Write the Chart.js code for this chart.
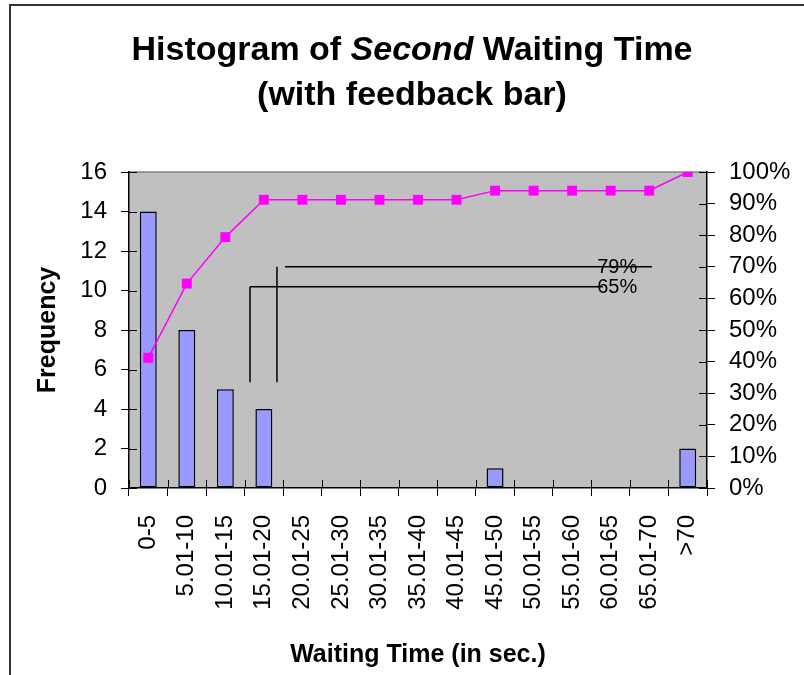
<!DOCTYPE html>
<html>
<head>
<meta charset="utf-8">
<title>Histogram of Second Waiting Time</title>
<script src="https://cdn.jsdelivr.net/npm/chart.js@4.4.1/dist/chart.umd.min.js"></script>
<style>
  body { margin: 0; background: #fff; font-family: 'Liberation Sans', Arial, sans-serif; }
  #moldura { position: absolute; left: 9px; top: 4px; width: 800px; height: 680px; border-left: 2px solid #333; border-top: 2px solid #333; }
  #grafico { position: absolute; left: 0; top: 0; }
  #titulo { position: absolute; left: 0; top: 26px; width: 824px; text-align: center; font-weight: bold; font-size: 34px; line-height: 45px; color: #000; }
</style>
</head>
<body>
<div id="moldura"></div>
<canvas id="grafico" width="804" height="675"></canvas>
<div id="titulo">Histogram of <i>Second</i> Waiting Time<br>(with feedback bar)</div>
<script>
// --- Dados ---
const categorias = ['0-5', '5.01-10', '10.01-15', '15.01-20', '20.01-25', '25.01-30', '30.01-35', '35.01-40',
  '40.01-45', '45.01-50', '50.01-55', '55.01-60', '60.01-65', '65.01-70', '>70'];
const frequencias = [14, 8, 5, 4, 0, 0, 0, 0, 0, 1, 0, 0, 0, 0, 2];
const acumulado = [41.2, 64.7, 79.4, 91.2, 91.2, 91.2, 91.2, 91.2, 91.2, 94.1, 94.1, 94.1, 94.1, 94.1, 100];
const ticksFrequencia = [0, 2, 4, 6, 8, 10, 12, 14, 16];
const ticksPercentual = [0, 10, 20, 30, 40, 50, 60, 70, 80, 90, 100];

// barras de feedback (x em índice de categoria, y em % do eixo direito)
const feedbackTextos = ['79%', '65%'];
const feedbackNivel = [70, 63.7];
const feedbackInicio = [3.55, 2.64];
const feedbackFim = [13.07, 11.80];
const feedbackVertX = [3.34, 2.64];
const feedbackBase = [33.5, 33.5];
const feedbackTextoX = [11.65, 11.65];

const fonte = "'Liberation Sans', Arial, sans-serif";

// --- Plugins ---
const fundoPlugin = {
  id: 'fundo',
  beforeDraw(chart) {
    const { ctx, chartArea: a } = chart;
    ctx.save();
    ctx.fillStyle = '#C0C0C0';
    ctx.fillRect(a.left, a.top, a.right - a.left, a.bottom - a.top);
    ctx.strokeStyle = '#808080';
    ctx.lineWidth = 1.5;
    ctx.beginPath();
    ctx.moveTo(a.left, a.top);
    ctx.lineTo(a.right, a.top);
    ctx.stroke();
    ctx.restore();
  }
};

const marcasPlugin = {
  id: 'marcas',
  beforeDatasetsDraw(chart) {
    const { ctx, chartArea: a, scales } = chart;
    ctx.save();
    ctx.strokeStyle = '#000';
    ctx.lineWidth = 1;
    ctx.beginPath();
    scales.y.ticks.forEach(t => {
      const y = Math.round(scales.y.getPixelForValue(t.value)) + 0.5;
      ctx.moveTo(a.left, y);
      ctx.lineTo(a.left + 8, y);
    });
    scales.y1.ticks.forEach(t => {
      const y = Math.round(scales.y1.getPixelForValue(t.value)) + 0.5;
      ctx.moveTo(a.right - 8, y);
      ctx.lineTo(a.right, y);
    });
    for (let i = 0; i <= categorias.length; i++) {
      const x = Math.round(scales.x.getPixelForValue(i - 0.5)) + 0.5;
      ctx.moveTo(x, a.bottom - 8);
      ctx.lineTo(x, a.bottom);
    }
    ctx.stroke();
    ctx.restore();
  }
};

const feedbackPlugin = {
  id: 'feedback',
  afterDatasetsDraw(chart) {
    const { ctx, scales: { x, y1 } } = chart;
    ctx.save();
    ctx.strokeStyle = '#000';
    ctx.lineWidth = 1.5;
    ctx.fillStyle = '#000';
    ctx.font = '20px ' + fonte;
    ctx.textBaseline = 'middle';
    feedbackTextos.forEach((texto, i) => {
      const yNivel = y1.getPixelForValue(feedbackNivel[i]);
      const xVert = x.getPixelForValue(feedbackVertX[i]);
      ctx.beginPath();
      ctx.moveTo(x.getPixelForValue(feedbackInicio[i]), yNivel);
      ctx.lineTo(x.getPixelForValue(feedbackFim[i]), yNivel);
      ctx.moveTo(xVert, yNivel);
      ctx.lineTo(xVert, y1.getPixelForValue(feedbackBase[i]));
      ctx.stroke();
      ctx.fillText(texto, x.getPixelForValue(feedbackTextoX[i]), yNivel + 1);
    });
    ctx.restore();
  }
};

// --- Gráfico ---
new Chart(document.getElementById('grafico'), {
  type: 'bar',
  data: {
    labels: categorias,
    datasets: [
      {
        type: 'line',
        label: 'Cumulative %',
        data: acumulado,
        yAxisID: 'y1',
        borderColor: '#FF00FF',
        backgroundColor: '#FF00FF',
        borderWidth: 1.5,
        pointStyle: 'rect',
        pointRadius: 7,
        pointBorderWidth: 0,
        tension: 0,
        order: 0
      },
      {
        type: 'bar',
        label: 'Frequency',
        data: frequencias,
        yAxisID: 'y',
        backgroundColor: '#9999FF',
        borderColor: '#000',
        borderWidth: 1.5,
        borderSkipped: false,
        barPercentage: 0.44,
        categoryPercentage: 1,
        order: 1
      }
    ]
  },
  options: {
    responsive: false,
    animation: false,
    layout: { padding: { top: 172, left: 33, right: 0, bottom: 5 } },
    plugins: { legend: { display: false }, tooltip: { enabled: false } },
    scales: {
      x: {
        offset: true,
        grid: { drawOnChartArea: false, offset: true, tickLength: 8, color: '#000' },
        border: { color: '#000', width: 1.5 },
        ticks: { minRotation: 90, maxRotation: 90, autoSkip: false, padding: 19, color: '#000', font: { family: fonte, size: 24 } },
        title: { display: true, text: 'Waiting Time (in sec.)', color: '#000', padding: 0, font: { family: fonte, size: 25, weight: 'bold' } },
        afterFit(s) { s.height = 182; }
      },
      y: {
        position: 'left',
        min: 0,
        max: 16,
        grid: { drawOnChartArea: false, tickLength: 8, color: '#000' },
        border: { color: '#000', width: 1.5 },
        ticks: { autoSkip: false, padding: 14, color: '#000', font: { family: fonte, size: 24 } },
        title: { display: true, text: 'Frequency', color: '#000', padding: 0, font: { family: fonte, size: 25, weight: 'bold' } },
        afterBuildTicks(s) { s.ticks = ticksFrequencia.map(v => ({ value: v })); },
        afterFit(s) { s.width = 96; }
      },
      y1: {
        position: 'right',
        min: 0,
        max: 100,
        grid: { drawOnChartArea: false, tickLength: 8, color: '#000' },
        border: { color: '#000', width: 1.5 },
        ticks: { autoSkip: false, padding: 14, color: '#000', font: { family: fonte, size: 24 }, callback: v => v + '%' },
        afterBuildTicks(s) { s.ticks = ticksPercentual.map(v => ({ value: v })); },
        afterFit(s) { s.width = 97; }
      }
    }
  },
  plugins: [fundoPlugin, marcasPlugin, feedbackPlugin]
});
</script>
</body>
</html>
